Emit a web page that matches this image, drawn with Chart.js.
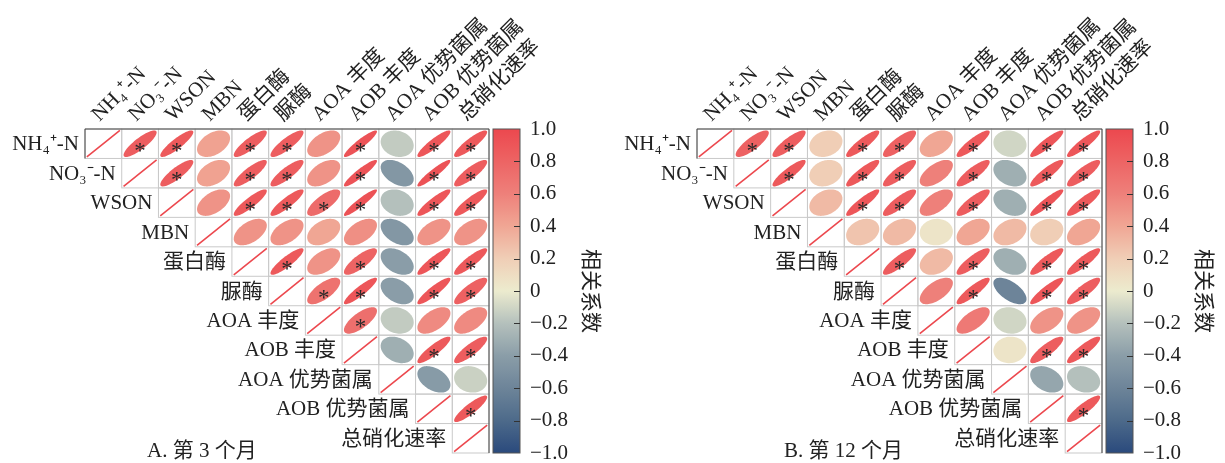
<!DOCTYPE html>
<html>
<head>
<meta charset="utf-8">
<script src="https://cdn.jsdelivr.net/npm/chart.js@4/dist/chart.umd.min.js"></script>
<style>
  html, body { margin: 0; padding: 0; background: #fff; }
  .wrap { display: flex; width: 1225px; height: 463px; }
  .panel { position: relative; width: 612px; height: 463px; }
  .panel + .panel { width: 613px; }
</style>
</head>
<body>
<div class="wrap">
  <div class="panel"><canvas id="chart-a"></canvas></div>
  <div class="panel"><canvas id="chart-b"></canvas></div>
</div>
<script>
// 变量名（行 / 列）
const vars = ['NH₄⁺-N', 'NO₃⁻-N', 'WSON', 'MBN', '蛋白酶', '脲酶', 'AOA 丰度', 'AOB 丰度', 'AOA 优势菌属', 'AOB 优势菌属', '总硝化速率'];

// 第 3 个月：上三角相关系数（每行从对角线右边一格开始）
const corrA = [
  [0.85, 0.88, 0.42, 0.85, 0.85, 0.5, 0.92, -0.15, 0.9, 0.88],
  [0.85, 0.42, 0.85, 0.85, 0.5, 0.92, -0.45, 0.93, 0.85],
  [0.5, 0.88, 0.88, 0.75, 0.93, -0.2, 0.9, 0.88],
  [0.5, 0.5, 0.4, 0.52, -0.45, 0.5, 0.5],
  [0.88, 0.5, 0.8, -0.4, 0.9, 0.88],
  [0.7, 0.9, -0.4, 0.9, 0.82],
  [0.72, -0.15, 0.55, 0.55],
  [-0.3, 0.88, 0.85],
  [-0.42, -0.12],
  [0.88]
];
const sigA = [
  [1, 1, 0, 1, 1, 0, 1, 0, 1, 1],
  [1, 0, 1, 1, 0, 1, 0, 1, 1],
  [0, 1, 1, 1, 1, 0, 1, 1],
  [0, 0, 0, 0, 0, 0, 0],
  [1, 0, 1, 0, 1, 1],
  [1, 1, 0, 1, 1],
  [1, 0, 0, 0],
  [0, 1, 1],
  [0, 0],
  [1]
];

// 第 12 个月
const corrB = [
  [0.82, 0.85, 0.2, 0.88, 0.82, 0.4, 0.88, -0.1, 0.9, 0.9],
  [0.88, 0.2, 0.88, 0.85, 0.6, 0.85, -0.3, 0.88, 0.85],
  [0.3, 0.9, 0.85, 0.6, 0.85, -0.3, 0.92, 0.88],
  [0.25, 0.3, 0.05, 0.4, 0.3, 0.2, 0.4],
  [0.85, 0.3, 0.85, -0.3, 0.88, 0.88],
  [0.6, 0.88, -0.6, 0.9, 0.85],
  [0.65, -0.1, 0.5, 0.5],
  [0.05, 0.85, 0.88],
  [-0.35, -0.2],
  [0.88]
];
const sigB = [
  [1, 1, 0, 1, 1, 0, 1, 0, 1, 1],
  [1, 0, 1, 1, 0, 1, 0, 1, 1],
  [0, 1, 1, 0, 1, 0, 1, 1],
  [0, 0, 0, 0, 0, 0, 0],
  [1, 0, 1, 0, 1, 1],
  [0, 1, 0, 1, 1],
  [0, 0, 0, 0],
  [0, 1, 1],
  [0, 0],
  [1]
];

// 色标刻度
const barMin = -1, barMax = 1, barStep = 0.2;

// 颜色映射 (-1 蓝 → 0 米白 → 1 红)
const cmapStops = [
  [-1.0, [42, 74, 124]],
  [-0.8, [77, 106, 138]],
  [-0.6, [109, 132, 153]],
  [-0.4, [138, 157, 168]],
  [-0.2, [180, 192, 188]],
  [0.0, [236, 235, 206]],
  [0.2, [240, 206, 182]],
  [0.4, [240, 166, 148]],
  [0.6, [238, 128, 122]],
  [1.0, [236, 72, 78]]
];
function corrColor(v) {
  for (let i = 1; i < cmapStops.length; i++) {
    const [v1, c1] = cmapStops[i];
    const [v0, c0] = cmapStops[i - 1];
    if (v <= v1) {
      const t = (v - v0) / (v1 - v0);
      const c = c0.map((x, k) => Math.round(x + (c1[k] - x) * t));
      return `rgb(${c[0]},${c[1]},${c[2]})`;
    }
  }
  return 'rgb(236,72,78)';
}

const serif = '"Liberation Serif", "Times New Roman", "Noto Sans CJK SC", serif';
const fontSize = 21;

// 相关矩阵绘制插件：格子、椭圆、星号、行标签、色标、图注
const corrPlugin = {
  id: 'corrCells',
  beforeDatasetsDraw(chart) {
    const xs = chart.scales.x, ys = chart.scales.y;
    const n = vars.length;
    const w = xs.getPixelForValue(1) - xs.getPixelForValue(0);
    const h = ys.getPixelForValue(1) - ys.getPixelForValue(0);
    const ctx = chart.ctx;
    ctx.save();
    ctx.strokeStyle = '#c9c9c9';
    ctx.lineWidth = 1;
    for (let i = 0; i < n; i++) {
      for (let j = i; j < n; j++) {
        const cx = xs.getPixelForValue(j), cy = ys.getPixelForValue(i);
        ctx.strokeRect(cx - w / 2, cy - h / 2, w, h);
      }
    }
    // 外框（上、右、左上）
    const left = xs.getPixelForValue(0) - w / 2, right = xs.getPixelForValue(n - 1) + w / 2;
    const top = ys.getPixelForValue(0) - h / 2, bottom = ys.getPixelForValue(n - 1) + h / 2;
    ctx.strokeStyle = '#444';
    ctx.beginPath();
    ctx.moveTo(left, top + h); ctx.lineTo(left, top); ctx.lineTo(right, top); ctx.lineTo(right, bottom);
    ctx.stroke();
    ctx.restore();
  },
  afterDatasetsDraw(chart, args, opts) {
    const ctx = chart.ctx;
    const xs = chart.scales.x, ys = chart.scales.y, yc = chart.scales.yc;
    const w = xs.getPixelForValue(1) - xs.getPixelForValue(0);
    const h = ys.getPixelForValue(1) - ys.getPixelForValue(0);
    const sx = w * 0.45, sy = h * 0.45;
    const meta = chart.getDatasetMeta(0);
    ctx.save();
    meta.data.forEach((el, idx) => {
      const raw = chart.data.datasets[0].data[idx];
      const cx = el.x, cy = el.y;
      if (raw.v >= 0.999) {
        ctx.strokeStyle = corrColor(1);
        ctx.lineWidth = 1.6;
        ctx.beginPath();
        ctx.moveTo(cx - sx, cy + sy);
        ctx.lineTo(cx + sx, cy - sy);
        ctx.stroke();
        return;
      }
      const d = Math.acos(raw.v);
      ctx.fillStyle = corrColor(raw.v);
      ctx.beginPath();
      for (let k = 0; k <= 80; k++) {
        const t = k / 80 * Math.PI * 2;
        const px = cx + Math.cos(t + d / 2) * sx;
        const py = cy - Math.cos(t - d / 2) * sy;
        if (k === 0) ctx.moveTo(px, py); else ctx.lineTo(px, py);
      }
      ctx.closePath();
      ctx.fill();
      if (raw.s) {
        ctx.fillStyle = '#2a2a2a';
        ctx.font = '23px ' + serif;
        ctx.textAlign = 'center';
        ctx.textBaseline = 'alphabetic';
        ctx.fillText('*', cx, cy + 14);
      }
    });

    // 行标签（阶梯状，位于对角线格左侧）
    ctx.fillStyle = '#222';
    ctx.font = fontSize + 'px ' + serif;
    ctx.textAlign = 'right';
    ctx.textBaseline = 'middle';
    vars.forEach((lab, i) => {
      const x = xs.getPixelForValue(i) - w / 2 - 6;
      ctx.fillText(lab, x, ys.getPixelForValue(i) + 1);
    });

    // 色标
    const bx = yc.left + 4, bw = 27;
    const bt = yc.getPixelForValue(barMax), bb = yc.getPixelForValue(barMin);
    const grad = ctx.createLinearGradient(0, bb, 0, bt);
    for (let k = 0; k <= 40; k++) {
      grad.addColorStop(k / 40, corrColor(barMin + (barMax - barMin) * k / 40));
    }
    ctx.fillStyle = grad;
    ctx.fillRect(bx, bt, bw, bb - bt);
    ctx.strokeStyle = '#555';
    ctx.lineWidth = 1;
    ctx.strokeRect(bx, bt, bw, bb - bt);
    ctx.strokeStyle = '#333';
    yc.ticks.forEach(t => {
      if (t.value <= barMin + 1e-6 || t.value >= barMax - 1e-6) return;
      const y = Math.round(yc.getPixelForValue(t.value)) + 0.5;
      ctx.beginPath();
      ctx.moveTo(bx + bw - 6, y);
      ctx.lineTo(bx + bw, y);
      ctx.stroke();
    });

    // 图注
    ctx.fillStyle = '#222';
    ctx.font = fontSize + 'px ' + serif;
    ctx.textAlign = 'left';
    ctx.textBaseline = 'alphabetic';
    ctx.fillText(opts.caption, opts.captionX, 457);
    ctx.restore();
  }
};

function buildData(corr, sig) {
  const pts = [];
  for (let i = 0; i < vars.length; i++) {
    pts.push({ x: vars[i], y: vars[i], v: 1, s: 0 });
    for (let j = i + 1; j < vars.length; j++) {
      pts.push({ x: vars[j], y: vars[i], v: corr[i][j - i - 1], s: sig[i][j - i - 1] });
    }
  }
  return pts;
}

function fmtBar(v) {
  if (Math.abs(v) < 1e-9) return '0';
  return (v < 0 ? '−' : '') + Math.abs(v).toFixed(1);
}

function makeChart(id, corr, sig, caption, captionX) {
  const ctx = document.getElementById(id).getContext('2d');
  return new Chart(ctx, {
    type: 'scatter',
    data: {
      datasets: [{ data: buildData(corr, sig), pointRadius: 0, pointHoverRadius: 0, xAxisID: 'x', yAxisID: 'y' }]
    },
    options: {
      responsive: true, maintainAspectRatio: false, animation: false,
      events: [],
      layout: { padding: { left: 85, top: 0, right: 0, bottom: 10 } },
      plugins: {
        legend: { display: false },
        tooltip: { enabled: false },
        corrCells: { caption: caption, captionX: captionX }
      },
      scales: {
        x: {
          type: 'category', labels: vars, offset: true, position: 'top',
          grid: { display: false }, border: { display: false },
          ticks: {
            autoSkip: false, minRotation: 45, maxRotation: 45, padding: -6, labelOffset: 10,
            color: '#222', font: { family: serif, size: fontSize }
          },
          afterFit(scale) { scale.height = 129; scale.paddingLeft = 0; scale.paddingRight = 0; }
        },
        y: {
          type: 'category', labels: vars, offset: true, display: false
        },
        yc: {
          type: 'linear', position: 'right', min: barMin, max: barMax,
          grid: { display: false, drawTicks: false }, border: { display: false },
          ticks: {
            stepSize: barStep, padding: 41, color: '#222',
            font: { family: serif, size: fontSize }, callback: v => fmtBar(v)
          },
          title: {
            display: true, text: '相关系数', color: '#222',
            font: { family: serif, size: fontSize }, padding: { top: 10, bottom: 0 }
          },
          afterFit(scale) { scale.width = 123; scale.paddingTop = 0; scale.paddingBottom = 0; }
        }
      }
    },
    plugins: [corrPlugin]
  });
}

makeChart('chart-a', corrA, sigA, 'A. 第 3 个月', 147);
makeChart('chart-b', corrB, sigB, 'B. 第 12 个月', 172);
</script>
</body>
</html>
